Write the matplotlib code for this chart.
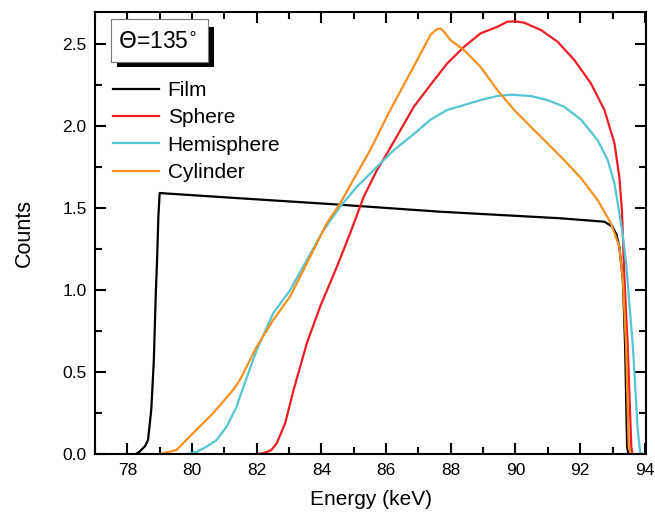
import numpy as np
import matplotlib.pyplot as plt
from matplotlib.ticker import MultipleLocator

plt.rcParams['font.family'] = ['Liberation Sans', 'DejaVu Sans']

# Film
film_x = [78.0, 78.25, 78.38, 78.55, 78.64, 78.74, 78.82, 78.88, 78.92, 78.96, 79.0, 81.48, 84.27, 87.68,
          91.4, 92.75, 93.0, 93.12, 93.21, 93.32, 93.39, 93.45, 93.49, 94.0]
film_y = [0.0, 0.0, 0.016, 0.05, 0.087, 0.27, 0.575, 0.98, 1.185, 1.45, 1.593, 1.561, 1.526, 1.479,
          1.439, 1.418, 1.388, 1.34, 1.266, 1.063, 0.656, 0.046, 0.0, 0.0]

# Sphere
sph_x = [81.07, 82.0, 82.2, 82.45, 82.62, 82.88, 83.14, 83.55, 83.96, 84.48, 84.89, 85.31, 85.72, 86.03,
         86.86, 87.37, 87.89, 88.41, 88.92, 89.44, 89.75, 90.0, 90.27, 90.79, 91.3, 91.82, 92.33, 92.75,
         93.06, 93.21, 93.29, 93.37, 93.47, 93.58, 93.62, 94.0]
sph_y = [0.0, 0.0, 0.006, 0.025, 0.067, 0.189, 0.392, 0.677, 0.9, 1.144, 1.348, 1.571, 1.734, 1.835,
         2.12, 2.252, 2.384, 2.485, 2.567, 2.607, 2.638, 2.64, 2.632, 2.587, 2.516, 2.404, 2.262, 2.1,
         1.896, 1.693, 1.49, 1.063, 0.656, 0.046, 0.0, 0.0]

# Hemisphere
hem_x = [79.5, 79.83, 80.15, 80.45, 80.76, 81.07, 81.38, 81.48, 82.0, 82.51, 83.03, 83.55, 84.07, 84.58,
         85.1, 85.62, 86.24, 86.9, 87.37, 87.89, 88.41, 88.92, 89.44, 89.85, 90.47, 90.99, 91.5, 92.03,
         92.54, 92.85, 93.06, 93.16, 93.3, 93.42, 93.63, 93.78, 93.86, 94.0]
hem_y = [0.0, 0.0, 0.015, 0.046, 0.087, 0.168, 0.29, 0.351, 0.636, 0.86, 1.0, 1.185, 1.368, 1.51,
         1.632, 1.734, 1.855, 1.96, 2.04, 2.1, 2.13, 2.16, 2.185, 2.193, 2.185, 2.16, 2.12, 2.04,
         1.915, 1.795, 1.652, 1.53, 1.36, 1.165, 0.656, 0.148, 0.0, 0.0]

# Cylinder
cyl_x = [78.6, 79.0, 79.52, 80.03, 80.65, 81.27, 81.48, 82.0, 82.51, 83.03, 83.55, 84.17, 84.58, 85.1,
         85.51, 86.13, 86.96, 87.37, 87.55, 87.68, 87.8, 87.99, 88.41, 88.92, 89.44, 89.96, 90.47, 90.99,
         91.5, 92.03, 92.54, 92.95, 93.21, 93.32, 93.42, 93.5, 93.57, 94.0]
cyl_y = [0.0, 0.0, 0.026, 0.128, 0.25, 0.392, 0.453, 0.656, 0.819, 0.961, 1.165, 1.409, 1.53, 1.713,
         1.855, 2.1, 2.404, 2.557, 2.59, 2.597, 2.575, 2.526, 2.465, 2.363, 2.221, 2.1, 1.998, 1.896,
         1.795, 1.683, 1.55, 1.409, 1.266, 1.063, 0.656, 0.046, 0.0, 0.0]

fig = plt.figure(figsize=(6.55, 5.15), dpi=100)
ax = fig.add_axes([0.145, 0.118, 0.842, 0.858])

ax.plot(film_x, film_y, color='black', lw=1.6, label='Film')
ax.plot(sph_x, sph_y, color='#ee1c25', lw=1.6, label='Sphere')
ax.plot(hem_x, hem_y, color='#55c5d1', lw=1.6, label='Hemisphere')
ax.plot(cyl_x, cyl_y, color='#f7901e', lw=1.6, label='Cylinder')

ax.set_xlim(77, 94.05)
ax.set_ylim(0, 2.695)
ax.xaxis.set_major_locator(MultipleLocator(2))
ax.xaxis.set_minor_locator(MultipleLocator(1))
ax.yaxis.set_major_locator(MultipleLocator(0.5))
ax.yaxis.set_minor_locator(MultipleLocator(0.25))
ax.yaxis.set_major_formatter(plt.FormatStrFormatter('%.1f'))
ax.tick_params(which='both', direction='in', top=True, right=True, width=1.5, labelsize=12.5)
ax.tick_params(which='major', length=8, pad=6)
ax.tick_params(which='minor', length=5)
for s in ax.spines.values():
    s.set_linewidth(1.5)

ax.set_xlabel('Energy (keV)', fontsize=15, labelpad=9)
ax.set_ylabel('Counts', fontsize=15.5, labelpad=20)

ax.legend(loc='upper left', bbox_to_anchor=(0.007, 0.878), frameon=False, fontsize=15,
          handlelength=2.2, handletextpad=0.4, labelspacing=0.4, borderaxespad=0.3)

# theta box with shadow
ax.add_patch(plt.Rectangle((0.040, 0.877), 0.176, 0.09, transform=ax.transAxes,
                           fc='black', ec='none', zorder=4))
ax.add_patch(plt.Rectangle((0.029, 0.888), 0.176, 0.097, transform=ax.transAxes,
                           fc='white', ec='#777777', lw=0.8, zorder=5))
ax.text(0.114, 0.933, r'$\Theta$=135$^{\circ}$', transform=ax.transAxes, fontsize=16.5,
        va='center', ha='center', zorder=6)

fig.savefig('out.png', dpi=100)
